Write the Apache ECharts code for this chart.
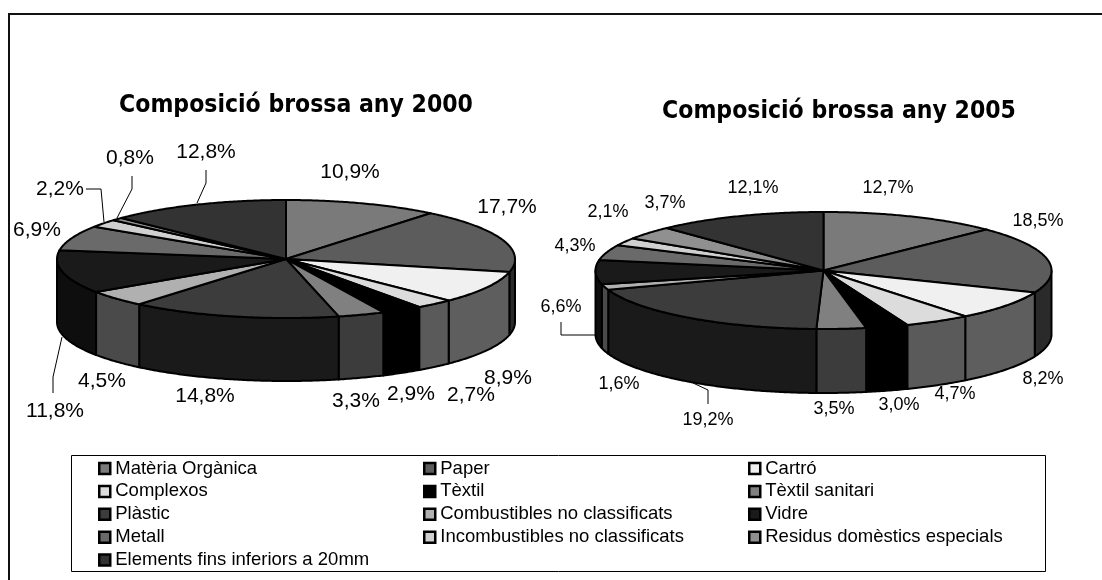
<!DOCTYPE html>
<html>
<head>
    <meta charset="utf-8">
    <title>Composició brossa</title>
    <script src="https://cdn.jsdelivr.net/npm/echarts@6/dist/echarts.min.js"></script>
</head>
<body style="margin:0;background:#fff">
<div id="main" style="width:1102px;height:580px"></div>
<script type="text/javascript">
    var categories = ['Matèria Orgànica', 'Paper', 'Cartró', 'Complexos', 'Tèxtil', 'Tèxtil sanitari', 'Plàstic',
        'Combustibles no classificats', 'Vidre', 'Metall', 'Incombustibles no classificats',
        'Residus domèstics especials', 'Elements fins inferiors a 20mm'];
    var values2000 = [10.9, 17.7, 8.9, 2.7, 2.9, 3.3, 14.8, 4.5, 11.8, 6.9, 2.2, 0.8, 12.8];
    var values2005 = [12.7, 18.5, 8.2, 4.7, 3.0, 3.5, 19.2, 1.6, 6.6, 4.3, 2.1, 3.7, 12.1];
    var titles = ['Composició brossa any 2000', 'Composició brossa any 2005'];

    // colors: top of the slice and the darker wall
    var topColors = ['#7a7a7a', '#5c5c5c', '#f0f0f0', '#dcdcdc', '#000000', '#808080', '#3c3c3c',
        '#b0b0b0', '#1a1a1a', '#6a6a6a', '#d0d0d0', '#909090', '#333333'];
    var sideColors = ['#3c3c3c', '#2a2a2a', '#5e5e5e', '#5a5a5a', '#000000', '#3c3c3c', '#1a1a1a',
        '#4a4a4a', '#0e0e0e', '#323232', '#606060', '#444444', '#161616'];

    // layout of each pie
    var pies = [
        {values: values2000, cx: 286, cy: 259, rx: 229, ry: 59, depth: 63, fontSize: 21,
            labels: [[350,172],[507,207],[508,378],[471,395],[411,394],[356,401],[205,396],[102,381],[55,411],[37,230],[60,189],[130,158],[206,152]],
            leaders: {
                8: [[53,393],[53,377],[62,337]],
                10: [[86,189],[101,189],[104,222]],
                11: [[132,176],[132,189],[117,218]],
                12: [[206,170],[206,183],[197,203]]
            }},
        {values: values2005, cx: 823.5, cy: 270.5, rx: 228, ry: 58.5, depth: 64, fontSize: 18,
            labels: [[888,188],[1038,221],[1043,379],[955,394],[899,405],[834,409],[708,420],[619,384],[561,307],[575,246],[608,212],[665,203],[753,188]],
            leaders: {
                6: [[708,404],[708,390],[693,383]],
                8: [[561,322],[561,335],[595,335]]
            }}
    ];

    function sum(arr) {
        var s = 0;
        for (var i = 0; i < arr.length; i++) s += arr[i];
        return s;
    }

    // angle is clockwise from 12 o'clock
    function ellipsePoint(p, a, dy) {
        return [p.cx + p.rx * Math.sin(a), p.cy - p.ry * Math.cos(a) + (dy || 0)];
    }

    function arcPoints(p, a0, a1, dy) {
        var n = Math.max(2, Math.ceil((a1 - a0) / 0.01));
        var pts = [];
        for (var i = 0; i <= n; i++) pts.push(ellipsePoint(p, a0 + (a1 - a0) * i / n, dy));
        return pts;
    }

    function renderSlice(params, api) {
        var p = pies[params.dataIndex];
        var i = params.seriesIndex;
        var total = sum(p.values);
        var start = sum(p.values.slice(0, i));
        var a0 = start / total * 2 * Math.PI;
        var a1 = (start + api.value(0)) / total * 2 * Math.PI;
        var children = [];

        // wall, only the front half of the pie shows
        var w0 = Math.max(a0, Math.PI / 2), w1 = Math.min(a1, Math.PI * 1.5);
        if (w1 > w0) {
            var wall = arcPoints(p, w0, w1, 0).concat(arcPoints(p, w0, w1, p.depth).reverse());
            children.push({type: 'polygon', shape: {points: wall},
                style: {fill: sideColors[i], stroke: '#000', lineWidth: 2, lineJoin: 'round'}});
        }
        children.push({type: 'polygon', shape: {points: [[p.cx, p.cy]].concat(arcPoints(p, a0, a1, 0))},
            style: {fill: topColors[i], stroke: '#000', lineWidth: 2, lineJoin: 'round'}});

        var leader = p.leaders[i];
        if (leader) {
            children.push({type: 'polyline', shape: {points: leader},
                style: {fill: 'none', stroke: '#000', lineWidth: 1}});
        }
        children.push({type: 'text', x: p.labels[i][0], y: p.labels[i][1], style: {
            text: api.value(0).toFixed(1).replace('.', ',') + '%',
            fontFamily: 'Liberation Sans', fontSize: p.fontSize, fill: '#000',
            align: 'center', verticalAlign: 'middle'
        }});
        return {type: 'group', children: children};
    }

    var series = [];
    for (var k = 0; k < categories.length; k++) {
        series.push({
            name: categories[k],
            type: 'custom',
            coordinateSystem: 'none',
            renderItem: renderSlice,
            itemStyle: {color: topColors[k]},
            data: [[values2000[k]], [values2005[k]]],
            silent: true,
            animation: false
        });
    }

    function legendColumn(left, start) {
        var names = [];
        for (var n = start; n < categories.length; n += 3) names.push(categories[n]);
        return {
            data: names, orient: 'vertical', left: left, top: 459, padding: 0,
            itemWidth: 11, itemHeight: 11, itemGap: 3.9, selectedMode: false, icon: 'rect',
            itemStyle: {borderColor: '#000', borderWidth: 2.5},
            textStyle: {fontFamily: 'Liberation Sans', fontSize: 18.5, color: '#000'}
        };
    }

    var chart = echarts.init(document.getElementById('main'));
    chart.setOption({
        animation: false,
        backgroundColor: '#fff',
        title: [
            {text: titles[0], left: 296, top: 93, textAlign: 'center', padding: 0,
                textStyle: {fontFamily: 'DejaVu Sans Condensed', fontWeight: 'bold', fontSize: 24.5, color: '#000'}},
            {text: titles[1], left: 839, top: 99, textAlign: 'center', padding: 0,
                textStyle: {fontFamily: 'DejaVu Sans Condensed', fontWeight: 'bold', fontSize: 24.5, color: '#000'}}
        ],
        legend: [legendColumn(98, 0), legendColumn(423, 1), legendColumn(748, 2)],
        graphic: [
            {type: 'rect', shape: {x: 71.5, y: 455.5, width: 974, height: 116}, style: {fill: 'none', stroke: '#000', lineWidth: 1}, silent: true},
            {type: 'polyline', shape: {points: [[9, 580], [9, 14], [1102, 14]]}, style: {fill: 'none', stroke: '#111', lineWidth: 2}, silent: true}
        ],
        series: series
    });
</script>
</body>
</html>
